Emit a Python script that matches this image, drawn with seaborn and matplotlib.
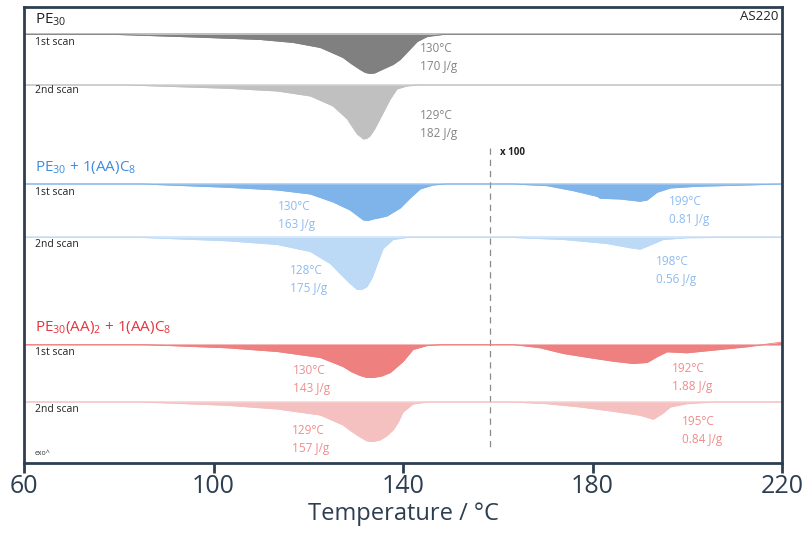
import numpy as np
import pandas as pd
import seaborn as sns
import matplotlib.pyplot as plt

# DSC traces: temperature (degC) and endotherm depth (arbitrary units)
# right-hand part (above ~158 degC) is magnified x100
pe_1st_t = [60, 79.6, 95.7, 109.8, 116.8, 122.5, 127.3, 129.0, 130.9, 132.0, 133.0, 134.0, 135.1, 137.9, 139.4,
            140.8, 143.0, 145.1, 148.4, 220]
pe_1st_d = [0, 0, 2.5, 5, 8, 13, 23, 29, 35, 38, 39, 38.5, 36, 30, 25, 18, 7, 2, 0, 0]
pe_2nd_t = [60, 81.7, 102.8, 113.4, 120.4, 125.2, 128.2, 129.3, 130.3, 131.6, 132.3, 133.0, 134.0, 135.1,
            136.2, 137.3, 138.7, 140.8, 143.0, 220]
pe_2nd_d = [0, 0, 3.3, 6, 11, 21, 34, 42, 49, 54, 53.5, 51, 44, 34, 24, 14, 4, 1, 0, 0]

b_1st_t = [60, 85, 102.8, 113.4, 120.4, 125.2, 128.8, 130.2, 131.6, 132.6, 133.7, 134.8, 136.6, 139.4, 141.5,
           143.6, 146.3, 149.0,
           163.2, 170.4, 175.9, 180.9, 181.6, 185.8, 190.0, 191.5, 193.6, 196.4, 202.0, 212.6, 220]
b_1st_d = [0, 0, 3.3, 6, 10, 18, 26, 31, 36, 36.5, 35, 34, 32, 24, 14, 5, 1, 0,
           0, 1.7, 6.7, 12.3, 14.3, 15, 17.3, 16, 8.3, 4, 2.3, 1, 0]
b_2nd_t = [60, 85, 102.8, 113.4, 120.4, 124.6, 127.3, 128.8, 130.3, 131.3, 132.4, 133.5, 134.5, 135.8, 137.9,
           140.8,
           163.2, 173.8, 183.0, 187.9, 190.0, 192.1, 194.9, 199.9, 205.0, 220]
b_2nd_d = [0, 0, 3.3, 7, 14, 26, 39, 46, 52, 52, 49, 40, 27, 11, 2, 0,
           0, 2, 6, 10.3, 11.7, 7.7, 2, 0.3, 0, 0]

r_1st_t = [60, 85, 102.8, 113.4, 122.5, 127.3, 129.0, 130.9, 132.3, 133.7, 135.5, 137.3, 140.0, 142.1, 145.1,
           148.0,
           163.2, 168.9, 173.8, 179.5, 184.3, 188.5, 191.5, 193.6, 195.7, 199.9, 205.4, 212.6, 220]
r_1st_d = [0, 0, 3.3, 7, 13, 22, 27, 31, 33, 33, 31.5, 28, 17, 5, 1, 0,
           0, 3.3, 9, 13.3, 16.7, 19, 18, 12.3, 7.3, 8.3, 5.7, 2.3, -2.5]
r_2nd_t = [60, 85, 102.8, 113.4, 122.5, 127.3, 129.0, 130.9, 132.4, 133.7, 135.1, 136.5, 137.9, 139.0, 140.0,
           142.1, 145.1,
           163.2, 170.4, 177.4, 184.3, 190.0, 192.8, 194.7, 196.4, 199.9, 205.4, 220]
r_2nd_d = [0, 0, 3.3, 7, 13, 23, 29, 35, 39, 39.5, 38, 34, 28, 20, 10, 2, 0,
           0, 1.7, 5, 9.3, 13.3, 17.3, 11.7, 5, 1.7, 0, 0]

peak_labels = [
    ("130°C", "170 J/g"), ("129°C", "182 J/g"),
    ("130°C", "163 J/g"), ("128°C", "175 J/g"),
    ("130°C", "143 J/g"), ("129°C", "157 J/g"),
]
high_labels = [("199°C", "0.81 J/g"), ("198°C", "0.56 J/g"),
               ("192°C", "1.88 J/g"), ("195°C", "0.84 J/g")]

sns.set_theme(style="white")
plt.rcParams['font.family'] = ['Open Sans', 'DejaVu Sans']
plt.rcParams['mathtext.fontset'] = 'custom'
plt.rcParams['mathtext.rm'] = 'Open Sans'

fig = plt.figure(figsize=(8.06, 5.33), dpi=100)
ax = fig.add_axes([0.0298, 0.1313, 0.9405, 0.8556])

navy = '#2d3e50'
traces = [
    (pe_1st_t, pe_1st_d, 34.5, '#808080', '#b4b4b4'),
    (pe_2nd_t, pe_2nd_d, 85, '#c0c0c0', '#d4d4d4'),
    (b_1st_t, b_1st_d, 184, '#7eb4ea', '#a9cdf2'),
    (b_2nd_t, b_2nd_d, 237.5, '#bcd9f5', '#cfe3f8'),
    (r_1st_t, r_1st_d, 344.5, '#ee8080', '#f4a9a9'),
    (r_2nd_t, r_2nd_d, 402, '#f5c0c0', '#f8d2d2'),
]
for t, d, base, fill, line in traces:
    df = pd.DataFrame({'T': t, 'y': base + np.array(d)})
    ax.axhline(base, color=line, lw=1.2, zorder=1)
    ax.fill_between(df['T'], base, df['y'], color=fill, lw=0, zorder=2)
    sns.lineplot(data=df, x='T', y='y', ax=ax, color=fill, lw=0.6, zorder=2, estimator=None, sort=False)

# peak annotations
lab_pos = [(143.6, 49, '#858585'), (143.6, 116, '#858585'),
           (113.6, 207, '#8dbbee'), (116.1, 270, '#8dbbee'),
           (116.8, 370, '#f08c8c'), (116.6, 430, '#f08c8c')]
for (a, b), (x, y, c) in zip(peak_labels, lab_pos):
    ax.text(x, y, a, color=c, fontsize=8.5, va='center')
    ax.text(x, y + 18, b, color=c, fontsize=8.5, va='center')
hpos = [(196.1, 202, '#8dbbee'), (193.4, 261, '#8dbbee'),
        (196.8, 368, '#f08c8c'), (198.9, 421, '#f08c8c')]
for (a, b), (x, y, c) in zip(high_labels, hpos):
    ax.text(x, y, a, color=c, fontsize=8.5, va='center')
    ax.text(x, y + 18, b, color=c, fontsize=8.5, va='center')

# group titles and scan labels
ax.text(62.3, 20, r"PE$_\mathregular{30}$", fontsize=11, color='#222222', va='center')
ax.text(62.3, 168, r"PE$_\mathregular{30}$ + 1(AA)C$_\mathregular{8}$", fontsize=11, color='#3d8ce0', va='center')
ax.text(62.3, 327, r"PE$_\mathregular{30}$(AA)$_\mathregular{2}$ + 1(AA)C$_\mathregular{8}$", fontsize=11,
        color='#e8333a', va='center')
for y in [43, 91, 193, 244, 352, 409]:
    ax.text(62.3, y, "1st scan" if y in (43, 193, 352) else "2nd scan", fontsize=7.5, color='#222222', va='center')
ax.text(219.2, 17, "AS220", fontsize=9.5, color='#222222', va='center', ha='right')
ax.text(160.5, 153, "x 100", fontsize=7, color='#222222', va='center', fontweight='bold')
ax.text(62.3, 453, "exo^", fontsize=5, color='#333333', va='center')
ax.plot([158.3, 158.3], [148, 450], color='#8a8a8a', lw=0.9, ls=(0, (5, 4)), zorder=1)

ax.set_xlim(60, 220)
ax.set_ylim(463, 7)
ax.set_yticks([])
ax.set_xticks([60, 100, 140, 180, 220])
ax.tick_params(axis='x', direction='out', length=7, width=2, color=navy, labelsize=18, labelcolor=navy, pad=1, bottom=True)
ax.set_xlabel("Temperature / °C", fontsize=17, color=navy, labelpad=2)
ax.set_ylabel("")
for s in ax.spines.values():
    s.set_color(navy)
    s.set_linewidth(2)

fig.savefig("out.png", dpi=100)
